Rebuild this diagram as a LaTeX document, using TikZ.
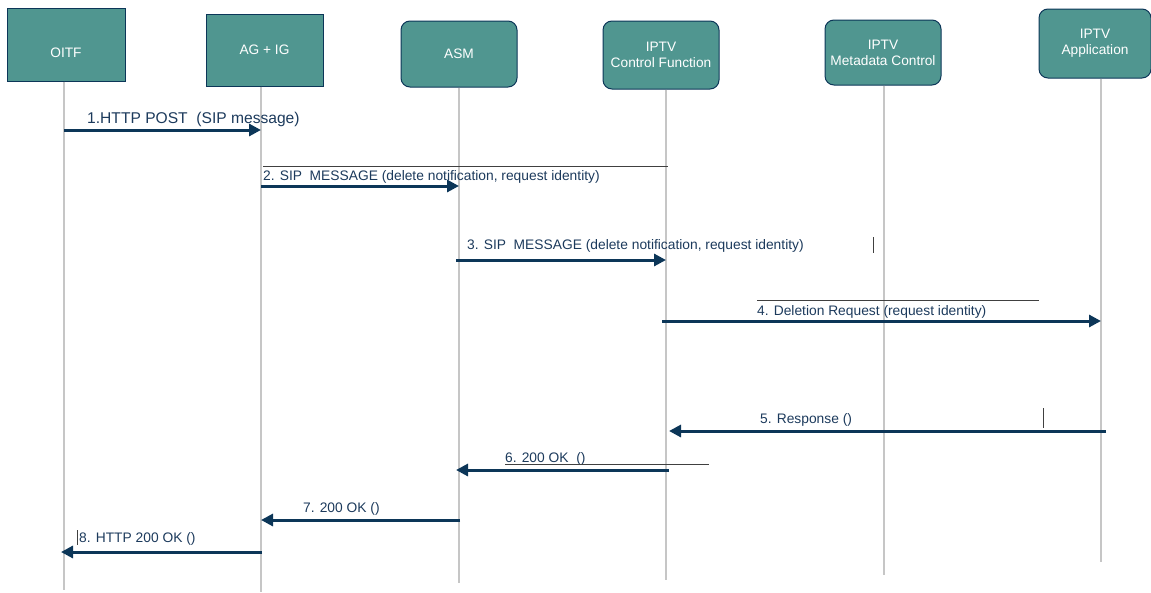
\documentclass[tikz,border=0pt]{standalone}
\usepackage{fontspec}
\setmainfont{Liberation Sans}
\usetikzlibrary{arrows.meta}
\definecolor{boxteal}{RGB}{80,150,144}
\definecolor{navy}{RGB}{12,54,88}
\definecolor{msgtext}{RGB}{28,58,92}
\begin{document}
\begin{tikzpicture}[x=1pt,y=-1pt,
box/.style={draw=navy,fill=boxteal,line width=1pt,text=white,align=center,inner sep=0pt,
  font=\fontsize{13.7}{16}\selectfont},
rbox/.style={box,rounded corners=9pt},
life/.style={gray!45,line width=1.2pt},
msg/.style={navy,line width=3pt,-{Triangle[length=12pt,width=12pt]}},
lbl/.style={msgtext,anchor=base west,inner sep=0pt,font=\fontsize{13.8}{16}\selectfont},
rule/.style={black!75,line width=0.5pt}]
\useasboundingbox (0,0) rectangle (1151,592);
% entities
\node[box,minimum width=118pt,minimum height=73pt,
  label={[text=white,font=\fontsize{13.7}{16}\selectfont,yshift=-8.5pt]center:OITF}] (oitf) at (66,44.5) {};
\node[box,minimum width=117pt,minimum height=72pt] (ag) at (264.5,50) {AG + IG};
\node[rbox,minimum width=116pt,minimum height=66pt] (asm) at (459,54) {ASM};
\node[rbox,minimum width=116pt,minimum height=68pt] (cf) at (661,55) {IPTV\\Control Function};
\node[rbox,minimum width=116pt,minimum height=65pt] (md) at (883,52.5) {IPTV\\Metadata Control};
\node[rbox,minimum width=112pt,minimum height=69pt] (app) at (1095,43.5) {IPTV\\Application};
% lifelines
\foreach \n/\x/\b in {oitf/64/590,ag/261/592,asm/459/583,cf/666/580,md/884/575,app/1101/562}{
  \coordinate (\n-l) at (\x,0);
  \draw[life] (\n.south -| \n-l) -- (\x,\b);
}
% messages
\draw[msg] (oitf-l |- 0,130) -- (ag-l |- 0,130);
\node[lbl,font=\fontsize{15.6}{18}\selectfont] (t1) at (87,123.5) {1.HTTP POST\ \ (SIP message)};
\draw[rule] (263,166) -- (668,166);
\draw[msg] (ag-l |- 0,186) -- (asm-l |- 0,186);
\node[lbl] (t2) at (263,180) {2. SIP\ \ MESSAGE (delete notification, request identity)};
\draw[msg] (456,260) -- (cf-l |- 0,260);
\node[lbl] (t3) at (467,249) {3. SIP\ \ MESSAGE (delete notification, request identity)};
\draw[rule] (873,237) -- (873,253);
\draw[rule] (757,300) -- (1039,300);
\draw[msg] (662,321) -- (app-l |- 0,321);
\node[lbl] (t4) at (757,315) {4. Deletion Request (request identity)};
\draw[msg] (1106,431) -- (669,431);
\node[lbl] (t5) at (760,423) {5. Response ()};
\draw[rule] (1043,408) -- (1043,428);
\draw[msg] (669,470) -- (456,470);
\node[lbl] (t6) at (505,462) {6. 200 OK\ \ ()};
\draw[rule] (505,464) -- (709,464);
\draw[msg] (460,520) -- (ag-l |- 0,520);
\node[lbl] (t7) at (303,512) {7. 200 OK ()};
\draw[msg] (262,552) -- (61,552);
\node[lbl] (t8) at (79,542) {8. HTTP 200 OK ()};
\draw[rule] (77,530) -- (77,545);
\end{tikzpicture}
\end{document}
